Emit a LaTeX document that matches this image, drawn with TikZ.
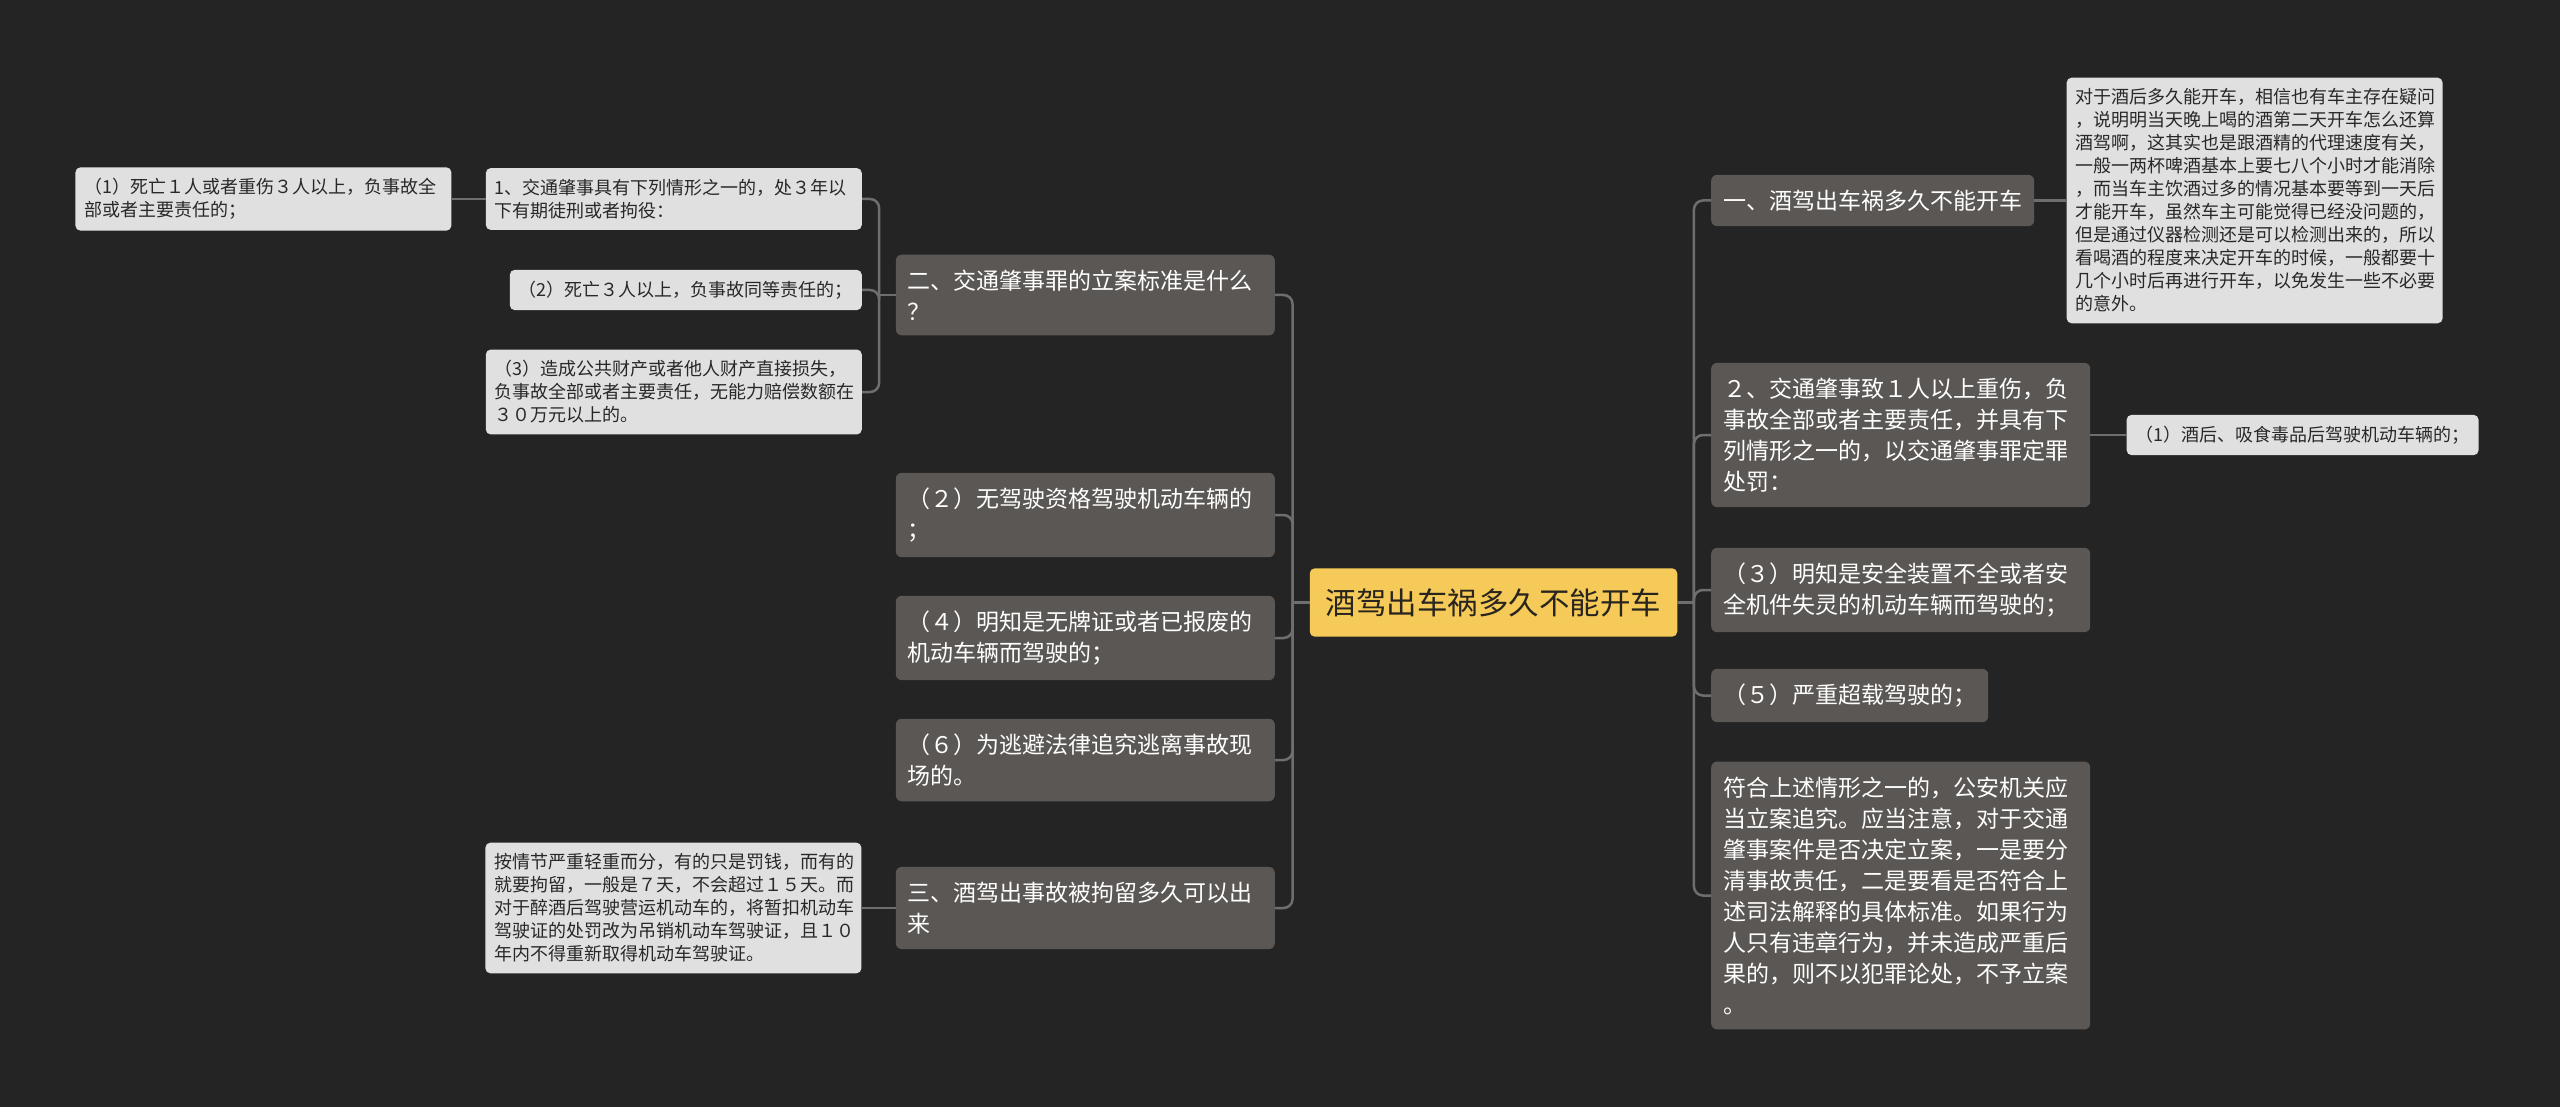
\documentclass[tikz,border=0pt]{standalone}
\usepackage{fontspec}
\setmainfont{Noto Sans CJK SC}
\usetikzlibrary{positioning}
\definecolor{bgdark}{RGB}{36,36,36}
\definecolor{rootyellow}{RGB}{245,202,88}
\definecolor{rootink}{RGB}{40,36,30}
\definecolor{topicgray}{RGB}{91,87,84}
\definecolor{notegray}{RGB}{224,224,224}
\definecolor{noteink}{RGB}{40,40,40}
\definecolor{linegray}{RGB}{110,110,110}
\tikzset{
  link/.style={draw=linegray, line width=2.5pt, rounded corners=9pt},
  rootbox/.style={fill=rootyellow, rounded corners=5pt, text=rootink, font=\fontsize{30.5}{36}\selectfont, inner xsep=16pt, inner ysep=20pt},
  topic/.style={fill=topicgray, rounded corners=6pt, text=white, align=left, font=\fontsize{23}{31}\selectfont, inner xsep=12pt, inner ysep=15pt},
  widetopic/.style={topic, text width=355pt},
  note/.style={fill=notegray, rounded corners=5pt, text=noteink, align=left, font=\fontsize{18}{23}\selectfont, inner xsep=9pt, inner ysep=11pt},
  widenote/.style={note, text width=358pt}
}
\begin{document}
\begin{tikzpicture}[x=1pt, y=-1pt]
% ---- background ----
\fill[bgdark] (0,0) rectangle (2560,1107);
% ---- centre ----
\node[rootbox] (root) at (1493.5,602.5) {酒驾出车祸多久不能开车};
\coordinate[right=16.5pt of root] (jr);
\coordinate[left=17pt of root] (jl);
% ---- right side ----
\node[topic, anchor=west] (r1) at (1711,200.5) {一、酒驾出车祸多久不能开车};
\node[widenote, right=32pt of r1] (r1n) {对于酒后多久能开车，相信也有车主存在疑问\\，说明明当天晚上喝的酒第二天开车怎么还算\\酒驾啊，这其实也是跟酒精的代理速度有关，\\一般一两杯啤酒基本上要七八个小时才能消除\\，而当车主饮酒过多的情况基本要等到一天后\\才能开车，虽然车主可能觉得已经没问题的，\\但是通过仪器检测还是可以检测出来的，所以\\看喝酒的程度来决定开车的时候，一般都要十\\几个小时后再进行开车，以免发生一些不必要\\的意外。};
\node[widetopic, anchor=west] (r2) at (1711,435) {２、交通肇事致１人以上重伤，负\\事故全部或者主要责任，并具有下\\列情形之一的，以交通肇事罪定罪\\处罚：};
\node[note, right=36pt of r2] (r2n) {（1）酒后、吸食毒品后驾驶机动车辆的；};
\node[widetopic, anchor=west] (r3) at (1711,590) {（３）明知是安全装置不全或者安\\全机件失灵的机动车辆而驾驶的；};
\node[topic, anchor=west] (r4) at (1711,695.5) {（５）严重超载驾驶的；};
\node[widetopic, anchor=west] (r5) at (1711,895.5) {符合上述情形之一的，公安机关应\\当立案追究。应当注意，对于交通\\肇事案件是否决定立案，一是要分\\清事故责任，二是要看是否符合上\\述司法解释的具体标准。如果行为\\人只有违章行为，并未造成严重后\\果的，则不以犯罪论处，不予立案\\。};
% ---- left side ----
\node[widetopic, anchor=east] (l1) at (1275,295) {二、交通肇事罪的立案标准是什么\\？};
\coordinate[left=16.5pt of l1] (j1);
\node[widenote, anchor=east] (n1) at (862,199) {1、交通肇事具有下列情形之一的，处３年以\\下有期徒刑或者拘役：};
\node[widenote, left=34pt of n1] (n1a) {（1）死亡１人或者重伤３人以上，负事故全\\部或者主要责任的；};
\node[note, anchor=east] (n2) at (862,290) {（2）死亡３人以上，负事故同等责任的；};
\node[widenote, anchor=east] (n3) at (862,392) {（3）造成公共财产或者他人财产直接损失，\\负事故全部或者主要责任，无能力赔偿数额在\\３０万元以上的。};
\node[widetopic, anchor=east] (l2) at (1275,515) {（２）无驾驶资格驾驶机动车辆的\\；};
\node[widetopic, anchor=east] (l3) at (1275,638) {（４）明知是无牌证或者已报废的\\机动车辆而驾驶的；};
\node[widetopic, anchor=east] (l4) at (1275,760) {（６）为逃避法律追究逃离事故现\\场的。};
\node[widetopic, anchor=east] (l5) at (1275,908) {三、酒驾出事故被拘留多久可以出\\来};
\node[widenote, left=34pt of l5] (l5n) {按情节严重轻重而分，有的只是罚钱，而有的\\就要拘留，一般是７天，不会超过１５天。而\\对于醉酒后驾驶营运机动车的，将暂扣机动车\\驾驶证的处罚改为吊销机动车驾驶证，且１０\\年内不得重新取得机动车驾驶证。};
% ---- connectors ----
\draw[link] (root.east) -- (jr);
\foreach \n in {r1,r2,r3,r4,r5} \draw[link] (jr) |- (\n.west);
\draw[link] (root.west) -- (jl);
\foreach \n in {l1,l2,l3,l4,l5} \draw[link] (jl) |- (\n.east);
\draw[link] (l1.west) -- (j1);
\foreach \n in {n1,n2,n3} \draw[link] (j1) |- (\n.east);
\draw[link] (r1.east) -- (r1n.west);
\draw[link] (r2.east) -- (r2n.west);
\draw[link] (n1.west) -- (n1a.east);
\draw[link] (l5.west) -- (l5n.east);
\end{tikzpicture}
\end{document}
